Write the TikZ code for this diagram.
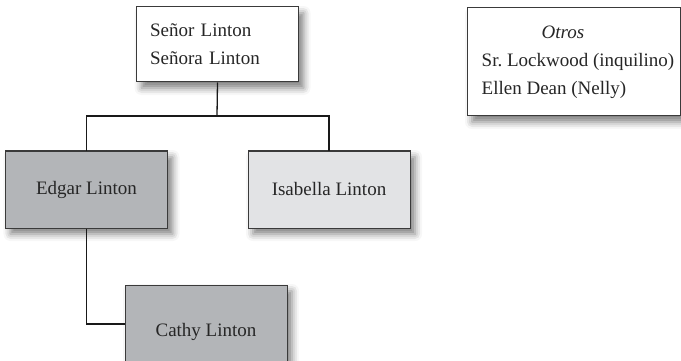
\documentclass[tikz,border=0pt]{standalone}
\usepackage{fontspec}
\setmainfont{Liberation Serif}
\usetikzlibrary{shadows.blur}
\definecolor{boxdark}{HTML}{B3B5B8}
\definecolor{boxlight}{HTML}{E2E3E5}
\definecolor{edge}{HTML}{3A3A3A}
\tikzset{
  person/.style={draw=edge, line width=1pt, minimum width=162pt, minimum height=77pt,
    inner sep=0pt, font=\fontsize{19}{28}\selectfont, text=black!85,
    blur shadow={shadow xshift=5pt, shadow yshift=-6pt, shadow blur radius=7pt, shadow opacity=50}},
  link/.style={line width=1.3pt, black!90},
}
\begin{document}
\begin{tikzpicture}[x=1pt, y=-1pt]
  \useasboundingbox (0,0) rectangle (681,361);
  % parents
  \node[person, fill=white, minimum height=75pt, inner xsep=13pt, text width=135pt, align=left]
    (parents) at (217.5,44.5) {Señor Linton\\Señora Linton};
  % other characters
  \node[person, fill=white, minimum width=213pt, minimum height=108pt, align=left]
    (others) at (573.5,62)
    {\hspace*{69pt}\textit{Otros}\\\hspace*{9pt}Sr.\ Lockwood (inquilino)\\\hspace*{9pt}Ellen Dean (Nelly)};
  % children
  \node[person, fill=boxdark] (edgar) at (86.5,189.5) {Edgar Linton};
  \node[person, fill=boxlight] (isabella) at (329,189.5) {Isabella Linton};
  % grandchild
  \node[person, fill=boxdark, minimum height=94pt] (cathy) at (206,332) {Cathy Linton};
  % connectors
  \coordinate (bar) at (217,116);
  \draw[link] (parents.south) -- (bar);
  \draw[link] (edgar.north) |- (bar) -| (isabella.north);
  \draw[link] (edgar.south) |- ([yshift=8pt]cathy.west);
\end{tikzpicture}
\end{document}
